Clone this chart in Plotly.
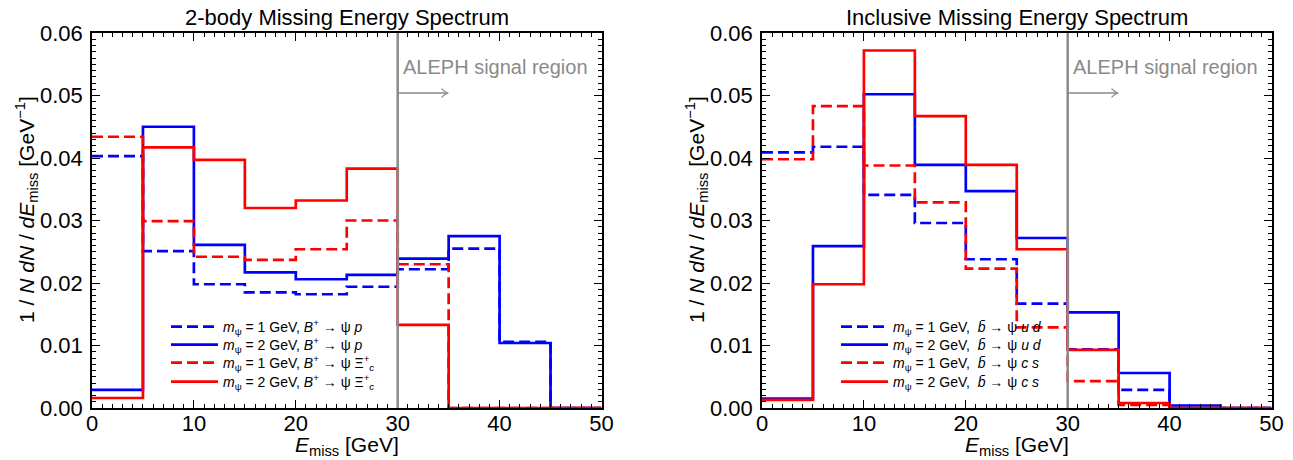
import plotly.graph_objects as go

# Bin edges of the missing-energy histograms (GeV)
bin_edges = [0, 5, 10, 15, 20, 25, 30, 35, 40, 45, 50]

# 2-body spectrum: B+ -> psi p and B+ -> psi Xi_c+
twobody_m1_p = [0.0403, 0.0251, 0.0198, 0.0185, 0.0182, 0.0194, 0.0222, 0.0255, 0.0106, 0.0]
twobody_m2_p = [0.0029, 0.0450, 0.0261, 0.0217, 0.0206, 0.0213, 0.0239, 0.0275, 0.0104, 0.0]
twobody_m1_xic = [0.0434, 0.0299, 0.0242, 0.0237, 0.0254, 0.0300, 0.0230, 0.0, 0.0, 0.0]
twobody_m2_xic = [0.0016, 0.0417, 0.0397, 0.0320, 0.0332, 0.0383, 0.0133, 0.0, 0.0, 0.0]

# Inclusive spectrum: b-bar -> psi u d and b-bar -> psi c s
incl_m1_ud = [0.0409, 0.0418, 0.0341, 0.0296, 0.0238, 0.0167, 0.0094, 0.0029, 0.0, 0.0]
incl_m2_ud = [0.0015, 0.0259, 0.0502, 0.0389, 0.0347, 0.0272, 0.0153, 0.0056, 0.0004, 0.0]
incl_m1_cs = [0.0398, 0.0483, 0.0388, 0.0329, 0.0223, 0.0129, 0.0043, 0.0005, 0.0, 0.0]
incl_m2_cs = [0.0013, 0.0198, 0.0572, 0.0467, 0.0389, 0.0254, 0.0093, 0.0008, 0.0, 0.0]

panel_titles = ["2-body Missing Energy Spectrum", "Inclusive Missing Energy Spectrum"]
labels_twobody = [
    "<i>m</i><sub>ψ</sub> = 1 GeV, <i>B</i><sup>+</sup> → ψ <i>p</i>",
    "<i>m</i><sub>ψ</sub> = 2 GeV, <i>B</i><sup>+</sup> → ψ <i>p</i>",
    "<i>m</i><sub>ψ</sub> = 1 GeV, <i>B</i><sup>+</sup> → ψ Ξ<sup>+</sup><sub><i>c</i></sub>",
    "<i>m</i><sub>ψ</sub> = 2 GeV, <i>B</i><sup>+</sup> → ψ Ξ<sup>+</sup><sub><i>c</i></sub>",
]
labels_incl = [
    "<i>m</i><sub>ψ</sub> = 1 GeV,  <i>b̄</i> → ψ <i>u d</i>",
    "<i>m</i><sub>ψ</sub> = 2 GeV,  <i>b̄</i> → ψ <i>u d</i>",
    "<i>m</i><sub>ψ</sub> = 1 GeV,  <i>b̄</i> → ψ <i>c s</i>",
    "<i>m</i><sub>ψ</sub> = 2 GeV,  <i>b̄</i> → ψ <i>c s</i>",
]

signal_cut = 30
FONT = "Liberation Sans, Arial, Helvetica, sans-serif"
BLUE = "#0000ff"
RED = "#ff0000"
GRAY = "#8a8a8a"
DASH = "11px,5px"

W, H = 1293, 460
panel_px = [(92, 601.5), (762, 1271.5)]
top_px, bottom_px = 33, 408
ydom = [1 - bottom_px / H, 1 - top_px / H]
legend_rows_px = [327, 345, 363, 382]
legend_left_px = [166, 836]

fig = go.Figure()


def step(values):
    """x/y arrays for a step histogram drawn with hv line shape."""
    return bin_edges, list(values) + [values[-1]]


panels = [
    [(twobody_m1_p, BLUE, DASH), (twobody_m2_p, BLUE, "solid"),
     (twobody_m1_xic, RED, DASH), (twobody_m2_xic, RED, "solid")],
    [(incl_m1_ud, BLUE, DASH), (incl_m2_ud, BLUE, "solid"),
     (incl_m1_cs, RED, DASH), (incl_m2_cs, RED, "solid")],
]
panel_labels = [labels_twobody, labels_incl]

layout = dict(
    width=W, height=H,
    margin=dict(l=0, r=0, t=0, b=0, pad=0, autoexpand=False),
    showlegend=True,
    paper_bgcolor="white", plot_bgcolor="white",
    font=dict(family=FONT, color="black"),
)

legend_style = dict(
    bgcolor="rgba(0,0,0,0)", borderwidth=0,
    font=dict(family=FONT, size=14, color="black"),
    xanchor="left", yanchor="middle", itemwidth=47,
)

legend_id = 0
for p, (series, labels) in enumerate(zip(panels, panel_labels)):
    sfx = "" if p == 0 else "2"
    for k, ((vals, col, dash), name) in enumerate(zip(series, labels)):
        legend_id += 1
        lname = "legend" if legend_id == 1 else f"legend{legend_id}"
        xs, ys = step(vals)
        fig.add_trace(go.Scatter(x=xs, y=ys, mode="lines", line_shape="hv",
                                 line=dict(color=col, width=2.7, dash=dash),
                                 name=name, xaxis="x" + sfx, yaxis="y" + sfx, legend=lname,
                                 showlegend=True))
        layout[lname] = dict(legend_style, x=legend_left_px[p] / W,
                             y=1 - legend_rows_px[k] / H)

axis_common = dict(
    showline=True, linecolor="black", linewidth=1.5, mirror="allticks",
    ticks="inside", ticklen=8, tickwidth=1.2, tickcolor="black",
    showgrid=False, zeroline=False, automargin=False,
    tickfont=dict(family=FONT, size=22, color="black"),
)

for i, (x0, x1) in enumerate(panel_px):
    sfx = "" if i == 0 else "2"
    layout["xaxis" + sfx] = dict(
        axis_common, domain=[x0 / W, x1 / W], range=[0, 50],
        tickmode="linear", tick0=0, dtick=10, ticklabelstandoff=-5,
        minor=dict(tickmode="linear", tick0=0, dtick=1, ticklen=4, tickwidth=1,
                   tickcolor="black", ticks="inside", showgrid=False),
        anchor="y" + sfx,
    )
    layout["yaxis" + sfx] = dict(
        axis_common, domain=ydom, range=[0, 0.06],
        tickmode="linear", tick0=0, dtick=0.01, tickformat=".2f", ticklabelstandoff=3,
        minor=dict(tickmode="linear", tick0=0, dtick=0.001, ticklen=4, tickwidth=1,
                   tickcolor="black", ticks="inside", showgrid=False),
        anchor="x" + sfx,
    )

fig.update_layout(**layout)

annotations = []
shapes = []
for i, (x0, x1) in enumerate(panel_px):
    sfx = "" if i == 0 else "2"
    xc = (x0 + x1) / 2 / W
    annotations.append(dict(text=panel_titles[i], x=xc, y=1 - 17 / H, xref="paper", yref="paper",
                            showarrow=False, xanchor="center", yanchor="middle",
                            font=dict(family=FONT, size=22, color="black")))
    annotations.append(dict(text="<i>E</i><sub>miss</sub> [GeV]", x=xc, y=1 - 446 / H,
                            xref="paper", yref="paper", showarrow=False,
                            xanchor="center", yanchor="middle",
                            font=dict(family=FONT, size=21, color="black")))
    annotations.append(dict(text="1 / <i>N</i> <i>dN</i> / <i>dE</i><sub>miss</sub> [GeV<sup>−1</sup>]",
                            x=(x0 - 66) / W, y=1 - 210 / H, xref="paper", yref="paper",
                            showarrow=False, textangle=-90, xanchor="center", yanchor="middle",
                            font=dict(family=FONT, size=21, color="black")))
    # signal-region marker
    xr, yr = "x" + sfx, "y" + sfx
    shapes.append(dict(type="line", xref=xr, yref=yr, x0=signal_cut, x1=signal_cut, y0=0, y1=0.06,
                       line=dict(color=GRAY, width=2.5)))
    annotations.append(dict(text="ALEPH signal region", x=signal_cut, y=0.0546, xref=xr, yref=yr,
                            showarrow=False, xanchor="left", yanchor="middle", xshift=3,
                            font=dict(family=FONT, size=20, color=GRAY)))
    ya = 0.0504
    shapes.append(dict(type="line", xref=xr, yref=yr, x0=signal_cut, x1=signal_cut + 4.9,
                       y0=ya, y1=ya, line=dict(color=GRAY, width=1.3)))
    shapes.append(dict(type="path", xref=xr, yref=yr,
                       path=f"M {signal_cut + 4.3},{ya + 0.0007} Q {signal_cut + 4.6},{ya + 0.0002} {signal_cut + 4.9},{ya} "
                            f"Q {signal_cut + 4.6},{ya - 0.0002} {signal_cut + 4.3},{ya - 0.0007}",
                       line=dict(color=GRAY, width=1.3)))

fig.update_layout(annotations=annotations, shapes=shapes)

fig.write_html("out.html")
